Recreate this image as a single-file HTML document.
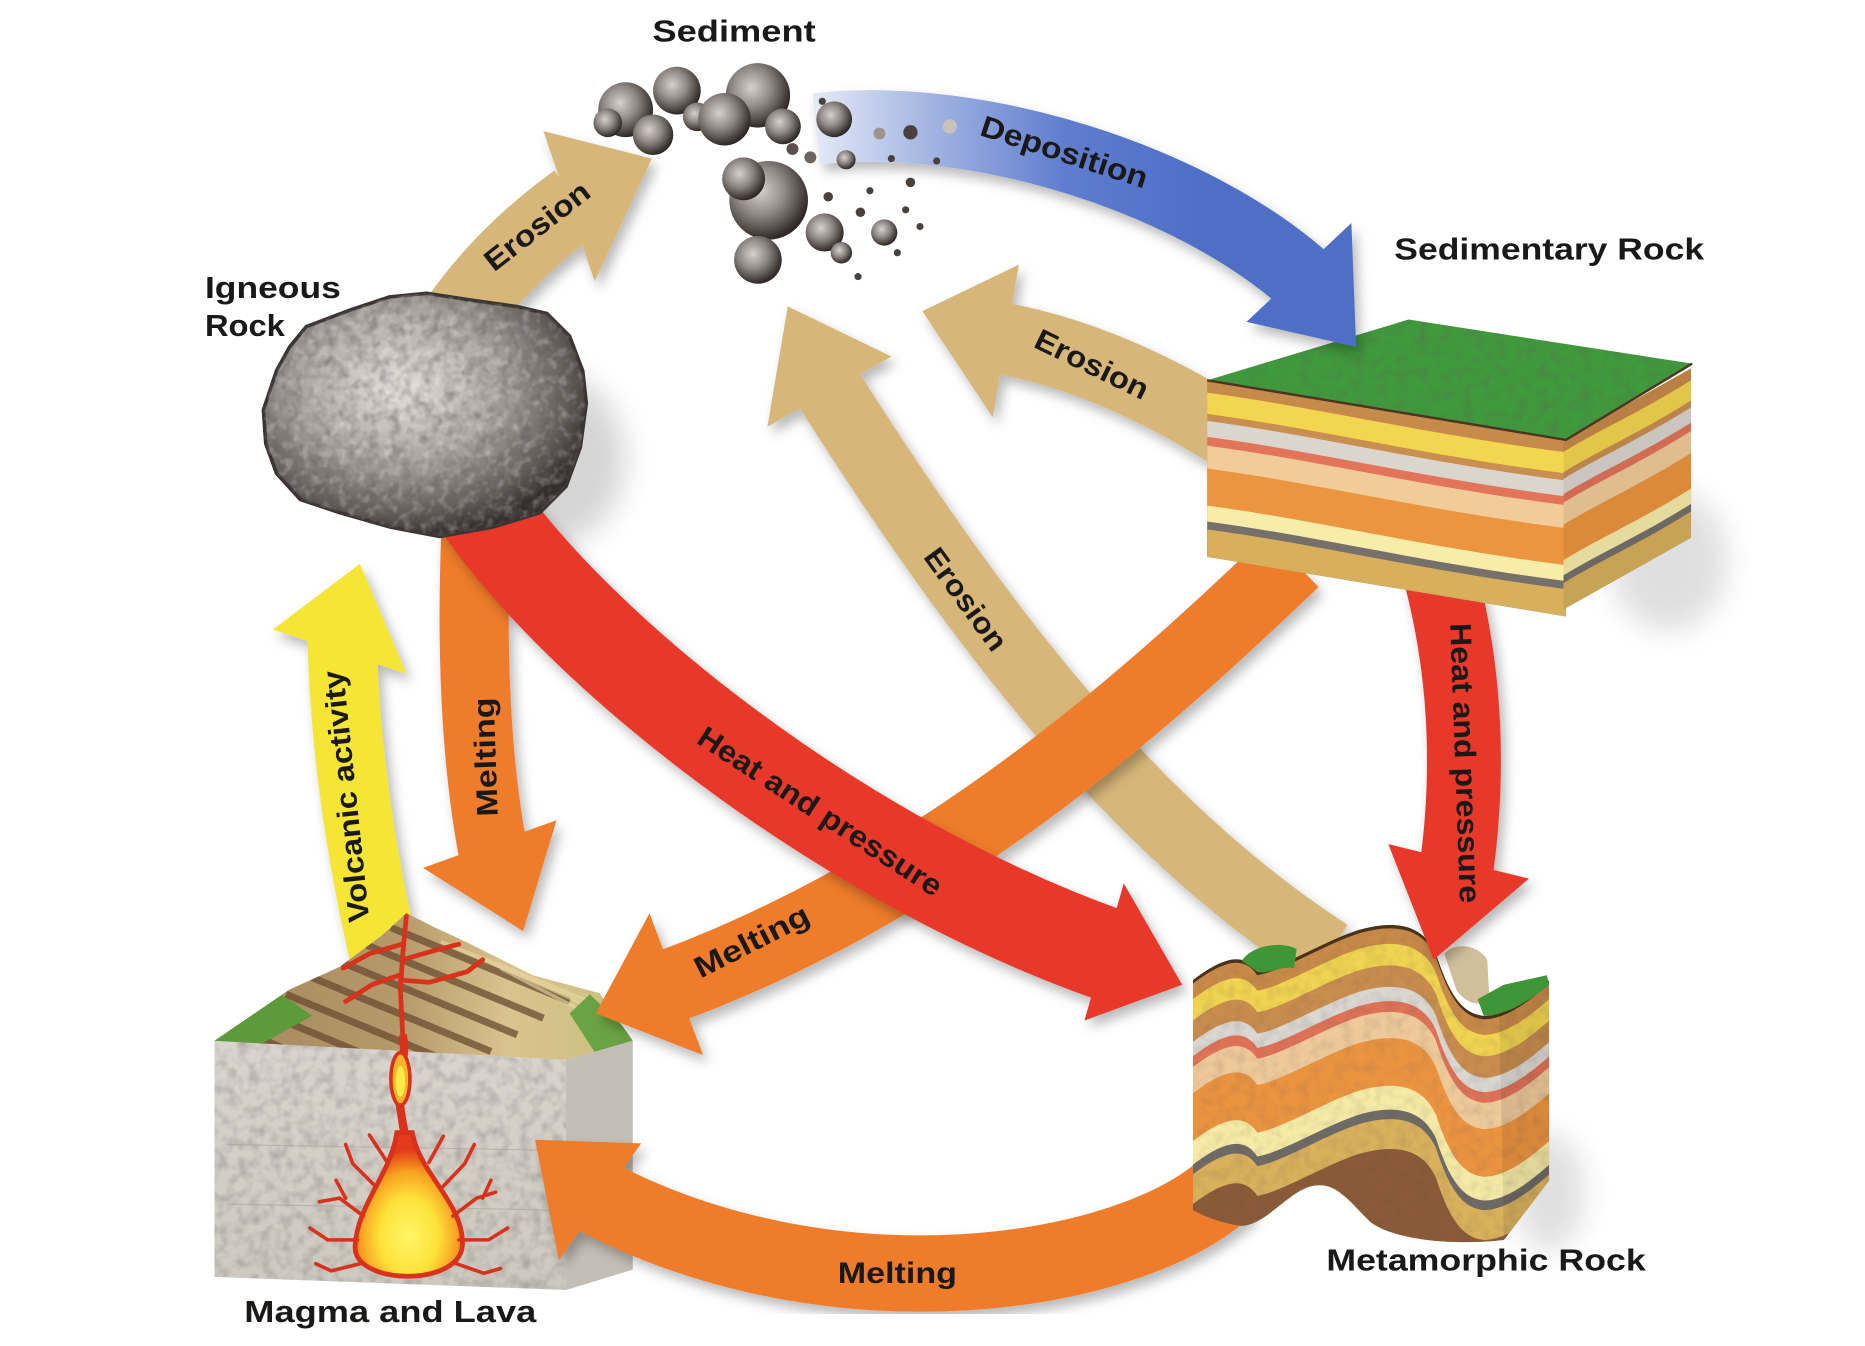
<!DOCTYPE html>
<html>
<head>
<meta charset="utf-8">
<style>
html,body{margin:0;padding:0;background:#ffffff;overflow:hidden;}
svg{display:block;}
text{font-family:"Liberation Sans",Arial,sans-serif;font-weight:bold;fill:#1b1917;}
</style>
</head>
<body>
<svg width="1865" height="1346" viewBox="0 0 1565 1129" preserveAspectRatio="none" xmlns="http://www.w3.org/2000/svg">
<defs>
  <filter id="sh" x="-30%" y="-30%" width="160%" height="160%">
    <feDropShadow dx="4" dy="6" stdDeviation="5" flood-color="#000" flood-opacity="0.28"/>
  </filter>
  <filter id="blur" x="-50%" y="-50%" width="200%" height="200%"><feGaussianBlur stdDeviation="12"/></filter>
  <filter id="tex" x="0" y="0" width="100%" height="100%">
    <feTurbulence type="fractalNoise" baseFrequency="0.11" numOctaves="2" seed="4" result="n"/>
    <feColorMatrix in="n" type="matrix" values="0 0 0 0 0.12  0 0 0 0 0.1  0 0 0 0 0.1  1.8 0 0 0 -0.72" result="m"/>
    <feComposite in="m" in2="SourceGraphic" operator="in"/>
  </filter>
  <filter id="texl" x="0" y="0" width="100%" height="100%">
    <feTurbulence type="fractalNoise" baseFrequency="0.13" numOctaves="2" seed="9" result="n"/>
    <feColorMatrix in="n" type="matrix" values="0 0 0 0 1  0 0 0 0 1  0 0 0 0 1  1.6 0 0 0 -0.75" result="m"/>
    <feComposite in="m" in2="SourceGraphic" operator="in"/>
  </filter>
  <linearGradient id="blueG" gradientUnits="userSpaceOnUse" x1="680" y1="0" x2="1010" y2="0">
    <stop offset="0" stop-color="#e6ebf7"/>
    <stop offset="0.3" stop-color="#a4b5e2"/>
    <stop offset="0.65" stop-color="#5f7dcf"/>
    <stop offset="1" stop-color="#4f6ec6"/>
  </linearGradient>
  <radialGradient id="rockG" cx="0.42" cy="0.38" r="0.62">
    <stop offset="0" stop-color="#e4e0dc"/>
    <stop offset="0.5" stop-color="#aca5a1"/>
    <stop offset="0.85" stop-color="#625b58"/>
    <stop offset="1" stop-color="#342e2c"/>
  </radialGradient>
  <radialGradient id="sedG" cx="0.4" cy="0.38" r="0.62">
    <stop offset="0" stop-color="#d6d1cd"/>
    <stop offset="0.5" stop-color="#8f8783"/>
    <stop offset="1" stop-color="#2f2927"/>
  </radialGradient>
  <linearGradient id="volG" gradientUnits="userSpaceOnUse" x1="180" y1="0" x2="531" y2="0">
    <stop offset="0" stop-color="#a4865c"/>
    <stop offset="0.45" stop-color="#b79a6b"/>
    <stop offset="0.7" stop-color="#d9c38e"/>
    <stop offset="1" stop-color="#c9c07e"/>
  </linearGradient>
  <radialGradient id="magG" cx="0.5" cy="0.72" r="0.6">
    <stop offset="0" stop-color="#fff566"/>
    <stop offset="0.45" stop-color="#fde23a"/>
    <stop offset="0.75" stop-color="#f8a020"/>
    <stop offset="1" stop-color="#e23a1a"/>
  </radialGradient>
  <linearGradient id="faceG" x1="0" y1="0" x2="0" y2="1">
    <stop offset="0" stop-color="#d9d5ce"/>
    <stop offset="1" stop-color="#cdc8c0"/>
  </linearGradient>
  <path id="mt" d="M1001,822 C1030,800 1045,800 1055,815 C1075,812 1110,790 1140,780 C1175,770 1195,778 1205,800 C1215,830 1225,850 1245,852 C1265,852 1285,835 1300,822 L1300,940 L1001,940 Z"/>
  <clipPath id="mclip">
    <path d="M1001,822 C1030,800 1045,800 1055,815 C1075,812 1110,790 1140,780 C1175,770 1195,778 1205,800 C1215,830 1225,850 1245,852 C1265,852 1285,835 1300,822 L1300,990 L1262,1040 C1220,1045 1170,1040 1150,1025 C1130,1005 1120,990 1100,995 C1080,1000 1060,1030 1040,1028 C1025,1026 1010,1020 1001,1015 Z"/>
  </clipPath>
  <clipPath id="volc">
    <polygon points="180,873 243,830 285,811 320,785 341,766 365,778 391,790 447,818 503,833 531,873 475,889"/>
  </clipPath>
  <clipPath id="rockclip">
    <path d="M257,274 L294,260 L327,249 L358,246 L397,252 L433,257 L459,263 L478,282 L489,311 L492,338 L487,375 L475,408 L453,430 L414,442 L369,450 L327,442 L285,430 L252,419 L232,397 L223,372 L221,344 L232,311 L243,291 Z"/>
  </clipPath>
</defs>

<rect x="0" y="0" width="1565" height="1129" fill="#ffffff"/>

<!-- soft shadows of objects -->
<ellipse cx="455" cy="385" rx="70" ry="75" fill="#000" opacity="0.16" filter="url(#blur)"/>
<ellipse cx="1400" cy="470" rx="50" ry="60" fill="#000" opacity="0.12" filter="url(#blur)"/>
<ellipse cx="1300" cy="1000" rx="30" ry="50" fill="#000" opacity="0.12" filter="url(#blur)"/>

<!-- Yellow: Volcanic activity -->
<g filter="url(#sh)">
  <path d="M322,800 Q290,660 287,535" stroke="#f5e636" stroke-width="58" fill="none"/>
  <polygon points="229,528 302,473 341,565" fill="#f5e636"/>
</g>

<!-- Magma and Lava block -->
<g>
  <polygon points="180,873 475,889 475,1082 180,1071" fill="url(#faceG)"/>
  <polygon points="475,889 531,873 531,1065 475,1082" fill="#c3beb6"/>
  <polygon points="180,873 475,889 475,1082 180,1071" fill="#000" filter="url(#tex)" opacity="0.35"/>
  <path d="M190,960 L470,965 M190,1010 L470,1015" stroke="#a8a39c" stroke-width="1" opacity="0.6"/>
  <g clip-path="url(#volc)">
    <rect x="175" y="760" width="360" height="135" fill="url(#volG)"/>
    <g stroke="#6a4c30" stroke-width="6" opacity="0.75" fill="none">
      <path d="M196,862 L346,924"/>
      <path d="M218,848 L368,910"/>
      <path d="M240,834 L390,896"/>
      <path d="M262,820 L412,882"/>
      <path d="M284,806 L434,868"/>
      <path d="M306,792 L456,854"/>
      <path d="M328,778 L478,840"/>
    </g>
    <g stroke="#e8d9a4" stroke-width="3" opacity="0.6" fill="none">
      <path d="M370,790 L520,850"/>
      <path d="M395,800 L530,860"/>
      <path d="M420,812 L530,870"/>
    </g>
    <polygon points="180,873 236,834 262,852 215,878" fill="#5d9a3b"/>
    <polygon points="495,834 535,873 500,884 478,850" fill="#6aa343"/>
    <g stroke="#d8311c" stroke-width="4" fill="none" stroke-linecap="round">
      <path d="M341,768 L338,800 L336,830 L338,870"/>
      <path d="M337,792 L310,800 L288,812"/>
      <path d="M338,805 L362,798 L385,792"/>
      <path d="M336,822 L360,824 L392,815 L405,805"/>
      <path d="M335,818 L312,826 L290,840"/>
    </g>
  </g>
  <!-- conduit -->
  <path d="M338,868 C342,890 332,905 336,930 C339,950 342,960 340,975" stroke="#d8311c" stroke-width="7" fill="none"/>
  <ellipse cx="336" cy="905" rx="8" ry="22" fill="#f9b52a" stroke="#d8311c" stroke-width="3"/>
  <ellipse cx="336" cy="907" rx="4" ry="13" fill="#fde94a"/>
  <path d="M333,950 C328,985 300,1010 298,1045 C296,1078 385,1080 388,1045 C390,1010 352,985 346,950 Z" fill="url(#magG)" stroke="#d8311c" stroke-width="4"/>
  <g stroke="#d8311c" stroke-width="3" fill="none" stroke-linecap="round">
    <path d="M305,1020 L285,1005 L268,1008"/>
    <path d="M300,1040 L275,1040 L260,1030"/>
    <path d="M302,1060 L278,1066 L265,1060"/>
    <path d="M315,995 L296,976 L290,960"/>
    <path d="M325,975 L310,952"/>
    <path d="M380,1020 L400,1005 L416,1000"/>
    <path d="M385,1040 L410,1040 L426,1030"/>
    <path d="M383,1060 L406,1068 L420,1064"/>
    <path d="M372,995 L390,976 L398,960"/>
    <path d="M360,975 L372,953"/>
    <path d="M290,1005 L282,990"/>
    <path d="M405,1005 L412,990"/>
  </g>
</g>

<!-- Long tan Erosion (metamorphic -> sediment) -->
<g filter="url(#sh)">
  <path d="M1115,800 C960,700 830,540 692,321" stroke="#d7b679" stroke-width="58" fill="none"/>
  <polygon points="644,358 661,257 748,299" fill="#d7b679"/>
</g>

<!-- Right tan Erosion (sedimentary -> sediment) -->
<g filter="url(#sh)">
  <path d="M1045,372 Q935,300 836,283" stroke="#d7b679" stroke-width="60" fill="none"/>
  <polygon points="855,222 774,261 833,350" fill="#d7b679"/>
</g>

<!-- Orange diagonal Melting (sedimentary -> magma) -->
<g filter="url(#sh)">
  <path d="M1085,470 C980,570 800,740 560,828" stroke="#ee7b2c" stroke-width="62" fill="none"/>
  <polygon points="545,766 500,850 590,885" fill="#ee7b2c"/>
</g>

<!-- Orange vertical Melting (igneous -> magma) -->
<g filter="url(#sh)">
  <path d="M400,430 Q392,600 414,716" stroke="#ee7b2c" stroke-width="58" fill="none"/>
  <polygon points="355,728 439,781 467,688" fill="#ee7b2c"/>
</g>

<!-- Red diagonal Heat and pressure (igneous -> metamorphic) -->
<g filter="url(#sh)">
  <path d="M400,420 C480,540 700,720 934,802" stroke="#e8392a" stroke-width="78" fill="none"/>
  <polygon points="943,741 992,826 910,856" fill="#e8392a"/>
</g>

<!-- Top-left tan Erosion (igneous -> sediment) -->
<g filter="url(#sh)">
  <path d="M380,275 Q420,215 484,169" stroke="#d7b679" stroke-width="64" fill="none"/>
  <polygon points="456,110 547,133 499,236" fill="#d7b679"/>
</g>

<!-- Bottom orange Melting (metamorphic -> magma) -->
<g filter="url(#sh)">
  <path d="M1030,995 C950,1070 700,1110 497,1002" stroke="#ee7b2c" stroke-width="64" fill="none"/>
  <polygon points="449,956 538,959 469,1057" fill="#ee7b2c"/>
</g>

<!-- Metamorphic Rock (folded layers) -->
<g>
  <g clip-path="url(#mclip)">
    <use href="#mt" fill="#4a3218"/>
    <use href="#mt" transform="translate(0,3)" fill="#c88a48"/>
    <use href="#mt" transform="translate(0,16)" fill="#f0d350"/>
    <use href="#mt" transform="translate(0,34)" fill="#c98d4e"/>
    <use href="#mt" transform="translate(0,52)" fill="#dad6d0"/>
    <use href="#mt" transform="translate(0,64)" fill="#df7257"/>
    <use href="#mt" transform="translate(0,73)" fill="#eec99a"/>
    <use href="#mt" transform="translate(0,95)" fill="#eb9440"/>
    <use href="#mt" transform="translate(0,135)" fill="#f6eba6"/>
    <use href="#mt" transform="translate(0,155)" fill="#6f6a65"/>
    <use href="#mt" transform="translate(0,163)" fill="#d9b15c"/>
    <use href="#mt" transform="translate(0,188)" fill="#8b5a38"/>
    <rect x="995" y="760" width="320" height="300" fill="#000" filter="url(#tex)" opacity="0.18"/>
    <polygon points="1258,849 1300,822 1300,995 1262,1042" fill="#000" opacity="0.08"/>
  </g>
  <path d="M1042,806 C1050,793 1075,789 1088,796 L1086,812 C1075,810 1062,818 1055,815 Z" fill="#3f9636"/>
  <path d="M1212,800 C1220,790 1240,792 1248,805 L1250,840 C1240,845 1228,840 1222,830 Z" fill="#c9b48a" opacity="0.85"/>
  <path d="M1240,838 L1262,826 L1298,818 L1300,826 C1285,838 1265,852 1245,852 Z" fill="#3f9636"/>
</g>

<!-- Red vertical Heat and pressure (sedimentary -> metamorphic) -->
<g filter="url(#sh)">
  <path d="M1208,480 Q1240,600 1222,730" stroke="#e8392a" stroke-width="62" fill="none"/>
  <polygon points="1165,708 1203,805 1283,737" fill="#e8392a"/>
</g>

<!-- Sedimentary Rock block -->
<g>
  <g transform="matrix(301,50,0,148,1013,319)">
    <rect x="0" y="0" width="1" height="1" fill="#c68a4a"/>
    <path d="M0,.07 C.3,.05 .6,.1 1,.07 L1,1 L0,1 Z" fill="#f3d650"/>
    <path d="M0,.19 C.3,.17 .6,.22 1,.19 L1,1 L0,1 Z" fill="#c98f50"/>
    <path d="M0,.23 C.3,.21 .6,.26 1,.23 L1,1 L0,1 Z" fill="#dad6ce"/>
    <path d="M0,.32 C.3,.30 .6,.35 1,.32 L1,1 L0,1 Z" fill="#e2745a"/>
    <path d="M0,.37 C.3,.35 .6,.40 1,.37 L1,1 L0,1 Z" fill="#f1cc98"/>
    <path d="M0,.50 C.3,.48 .6,.53 1,.50 L1,1 L0,1 Z" fill="#ec9540"/>
    <path d="M0,.71 C.3,.69 .6,.74 1,.71 L1,1 L0,1 Z" fill="#f7eca8"/>
    <path d="M0,.80 C.3,.78 .6,.83 1,.80 L1,1 L0,1 Z" fill="#76706b"/>
    <path d="M0,.845 C.3,.825 .6,.875 1,.845 L1,1 L0,1 Z" fill="#d8b05c"/>
  </g>
  <g transform="matrix(107,-60,0,142,1312,369)">
    <rect x="0" y="0" width="1" height="1" fill="#c68a4a"/>
    <path d="M0,.07 C.3,.06 .6,.09 1,.07 L1,1 L0,1 Z" fill="#f3d650"/>
    <path d="M0,.19 C.3,.18 .6,.21 1,.19 L1,1 L0,1 Z" fill="#c98f50"/>
    <path d="M0,.23 C.3,.22 .6,.25 1,.23 L1,1 L0,1 Z" fill="#dad6ce"/>
    <path d="M0,.32 C.3,.31 .6,.34 1,.32 L1,1 L0,1 Z" fill="#e2745a"/>
    <path d="M0,.37 C.3,.36 .6,.39 1,.37 L1,1 L0,1 Z" fill="#f1cc98"/>
    <path d="M0,.50 C.3,.49 .6,.52 1,.50 L1,1 L0,1 Z" fill="#ec9540"/>
    <path d="M0,.71 C.3,.70 .6,.73 1,.71 L1,1 L0,1 Z" fill="#f7eca8"/>
    <path d="M0,.80 C.3,.79 .6,.82 1,.80 L1,1 L0,1 Z" fill="#76706b"/>
    <path d="M0,.845 C.3,.835 .6,.865 1,.845 L1,1 L0,1 Z" fill="#d8b05c"/>
    <rect x="0" y="0" width="1" height="1" fill="#000" opacity="0.07"/>
  </g>
  <polygon points="1013,319 1182,268 1420,305 1314,369" fill="#3f9a3c"/>
  <polygon points="1013,319 1182,268 1420,305 1314,369" fill="#000" filter="url(#tex)" opacity="0.3"/>
  <path d="M1013,319 L1314,369 L1420,305" stroke="#4a3520" stroke-width="2" fill="none"/>
</g>

<!-- Blue Deposition (sediment -> sedimentary) -->
<g filter="url(#sh)">
  <path d="M685,108 C820,93 1000,150 1096,236" stroke="url(#blueG)" stroke-width="60" fill="none"/>
  <polygon points="1134,187 1138,291 1046,270" fill="#4f6ec6"/>
</g>

<!-- Igneous Rock -->
<g>
  <path d="M257,274 L294,260 L327,249 L358,246 L397,252 L433,257 L459,263 L478,282 L489,311 L492,338 L487,375 L475,408 L453,430 L414,442 L369,450 L327,442 L285,430 L252,419 L232,397 L223,372 L221,344 L232,311 L243,291 Z" fill="url(#rockG)" stroke="#3a3432" stroke-width="3" stroke-linejoin="round"/>
  <g clip-path="url(#rockclip)">
    <rect x="215" y="240" width="285" height="215" fill="#000" filter="url(#tex)" opacity="0.6"/>
    <rect x="215" y="240" width="285" height="215" fill="#fff" filter="url(#texl)" opacity="0.45"/>
  </g>
</g>

<!-- Sediment rocks -->
<g>
  <circle cx="525" cy="92" r="23" fill="url(#sedG)"/>
  <circle cx="568" cy="76" r="20" fill="url(#sedG)"/>
  <circle cx="548" cy="113" r="17" fill="url(#sedG)"/>
  <circle cx="510" cy="103" r="12" fill="url(#sedG)"/>
  <circle cx="585" cy="98" r="12" fill="url(#sedG)"/>
  <circle cx="636" cy="80" r="27" fill="url(#sedG)"/>
  <circle cx="608" cy="100" r="22" fill="url(#sedG)"/>
  <circle cx="657" cy="106" r="15" fill="url(#sedG)"/>
  <circle cx="645" cy="168" r="33" fill="url(#sedG)"/>
  <circle cx="624" cy="150" r="18" fill="url(#sedG)"/>
  <circle cx="636" cy="218" r="20" fill="url(#sedG)"/>
  <circle cx="700" cy="100" r="15" fill="url(#sedG)"/>
  <circle cx="692" cy="195" r="16" fill="url(#sedG)"/>
  <circle cx="706" cy="212" r="9" fill="url(#sedG)"/>
  <circle cx="742" cy="195" r="11" fill="url(#sedG)"/>
  <circle cx="710" cy="134" r="8" fill="url(#sedG)"/>
  <circle cx="738" cy="112" r="5" fill="#9c948f"/>
  <circle cx="764" cy="111" r="6" fill="#4a403c"/>
  <circle cx="797" cy="106" r="6" fill="#c9c2bc"/>
  <circle cx="680" cy="132" r="5" fill="#6d6460"/>
  <circle cx="665" cy="125" r="5" fill="#57504c"/>
  <circle cx="764" cy="153" r="4" fill="#4a403c"/>
  <circle cx="730" cy="160" r="3" fill="#4a403c"/>
  <circle cx="722" cy="178" r="4" fill="#4a403c"/>
  <circle cx="760" cy="176" r="3" fill="#4a403c"/>
  <circle cx="772" cy="190" r="3" fill="#4a403c"/>
  <circle cx="753" cy="212" r="3" fill="#4a403c"/>
  <circle cx="720" cy="232" r="3" fill="#4a403c"/>
  <circle cx="695" cy="165" r="4" fill="#4a403c"/>
  <circle cx="748" cy="133" r="3" fill="#4a403c"/>
  <circle cx="690" cy="85" r="3" fill="#4a403c"/>
  <circle cx="786" cy="135" r="3" fill="#4a403c"/>
</g>

<!-- Node labels -->
<text x="616" y="26" font-size="26" text-anchor="middle" dominant-baseline="central" textLength="137" lengthAdjust="spacingAndGlyphs">Sediment</text>
<text x="172" y="241" font-size="26" dominant-baseline="central" textLength="114" lengthAdjust="spacingAndGlyphs">Igneous</text>
<text x="172" y="273" font-size="26" dominant-baseline="central" textLength="67" lengthAdjust="spacingAndGlyphs">Rock</text>
<text x="1170" y="209" font-size="26" dominant-baseline="central" textLength="260" lengthAdjust="spacingAndGlyphs">Sedimentary Rock</text>
<text x="1113" y="1057" font-size="26" dominant-baseline="central" textLength="268" lengthAdjust="spacingAndGlyphs">Metamorphic Rock</text>
<text x="205" y="1100" font-size="26" dominant-baseline="central" textLength="245" lengthAdjust="spacingAndGlyphs">Magma and Lava</text>

<!-- Arrow labels -->
<text transform="translate(451,190) rotate(-38)" x="0" y="0" font-size="25" text-anchor="middle" dominant-baseline="central" textLength="105" lengthAdjust="spacingAndGlyphs">Erosion</text>
<text transform="translate(893,128) rotate(18)" x="0" y="0" font-size="25" text-anchor="middle" dominant-baseline="central" textLength="146" lengthAdjust="spacingAndGlyphs">Deposition</text>
<text transform="translate(916,306) rotate(26)" x="0" y="0" font-size="25" text-anchor="middle" dominant-baseline="central" textLength="103" lengthAdjust="spacingAndGlyphs">Erosion</text>
<text transform="translate(810,503) rotate(54)" x="0" y="0" font-size="25" text-anchor="middle" dominant-baseline="central" textLength="100" lengthAdjust="spacingAndGlyphs">Erosion</text>
<text transform="translate(688,681) rotate(33)" x="0" y="0" font-size="25" text-anchor="middle" dominant-baseline="central" textLength="239" lengthAdjust="spacingAndGlyphs">Heat and pressure</text>
<text transform="translate(631,790) rotate(-27)" x="0" y="0" font-size="25" text-anchor="middle" dominant-baseline="central" textLength="105" lengthAdjust="spacingAndGlyphs">Melting</text>
<text transform="translate(1229,640) rotate(88)" x="0" y="0" font-size="25" text-anchor="middle" dominant-baseline="central" textLength="235" lengthAdjust="spacingAndGlyphs">Heat and pressure</text>
<text transform="translate(408,635) rotate(-92)" x="0" y="0" font-size="25" text-anchor="middle" dominant-baseline="central" textLength="100" lengthAdjust="spacingAndGlyphs">Melting</text>
<text transform="translate(291,668) rotate(-96)" x="0" y="0" font-size="25" text-anchor="middle" dominant-baseline="central" textLength="212" lengthAdjust="spacingAndGlyphs">Volcanic activity</text>
<text transform="translate(753,1068)" x="0" y="0" font-size="25" text-anchor="middle" dominant-baseline="central" textLength="100" lengthAdjust="spacingAndGlyphs">Melting</text>
</svg>
</body>
</html>
